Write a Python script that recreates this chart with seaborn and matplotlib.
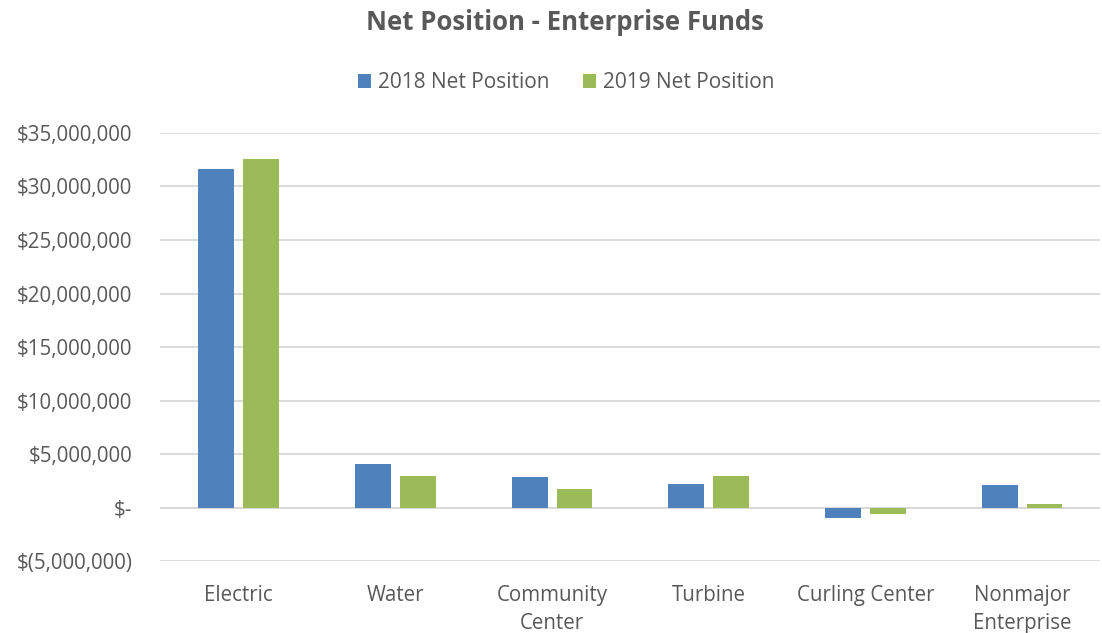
import matplotlib
matplotlib.use("Agg")
import matplotlib.pyplot as plt
import matplotlib.ticker as mticker
import seaborn as sns
import pandas as pd

categories = ["Electric", "Water", "Community\nCenter", "Turbine", "Curling Center", "Nonmajor\nEnterprise"]
net_2018 = [31600000, 4070000, 2850000, 2200000, -950000, 2100000]
net_2019 = [32550000, 2950000, 1730000, 2950000, -600000, 330000]
series_names = ["2018 Net Position", "2019 Net Position"]

df = pd.DataFrame({
    "Category": categories * 2,
    "Value": net_2018 + net_2019,
    "Series": [series_names[0]] * len(categories) + [series_names[1]] * len(categories),
})

sns.set_theme(style="white")
plt.rcParams["font.family"] = ["Open Sans", "DejaVu Sans"]
text_color = "#595959"

fig = plt.figure(figsize=(11.02, 6.33), dpi=100)
ax = fig.add_axes([0.1455, 0.1137, 0.853, 0.6762])

sns.barplot(data=df, x="Category", y="Value", hue="Series",
            palette=["#4F81BD", "#9BBB59"], width=0.574, gap=0.2,
            saturation=1, ax=ax, legend=True, zorder=3, linewidth=0,
            edgecolor="none")

ax.set_ylim(-5000000, 35000000)
ax.set_xlim(-0.5, len(categories) - 0.5)
ax.yaxis.set_major_locator(mticker.MultipleLocator(5000000))

def acct(v, pos):
    if abs(v) < 1:
        return "$-"
    if v < 0:
        return "$({:,.0f})".format(-v)
    return "${:,.0f}".format(v)

ax.yaxis.set_major_formatter(mticker.FuncFormatter(acct))
ax.grid(axis="y", color="#D9D9D9", linewidth=1.3, zorder=0)
ax.grid(axis="x", visible=False)
for s in ax.spines.values():
    s.set_visible(False)
ax.axhline(0, color="#D9D9D9", linewidth=1.3, zorder=2)

ax.tick_params(axis="both", length=0, labelsize=14.8, colors=text_color)
ax.tick_params(axis="x", pad=17)
ax.tick_params(axis="y", pad=20)
for lbl in ax.get_xticklabels():
    lbl.set_linespacing(1.45)
ax.set_xlabel("")
ax.set_ylabel("")

fig.suptitle("Net Position - Enterprise Funds", x=0.513, y=0.985, fontsize=18.5,
             fontweight="bold", color=text_color)

handles, labels = ax.get_legend_handles_labels()
ax.legend(handles, labels, loc="center", bbox_to_anchor=(0.514, 0.869),
          bbox_transform=fig.transFigure, ncol=2, frameon=False, fontsize=15,
          labelcolor=text_color, handlelength=0.6, handleheight=0.6,
          handletextpad=0.35, columnspacing=1.6)

fig.savefig("out.png", dpi=100)
